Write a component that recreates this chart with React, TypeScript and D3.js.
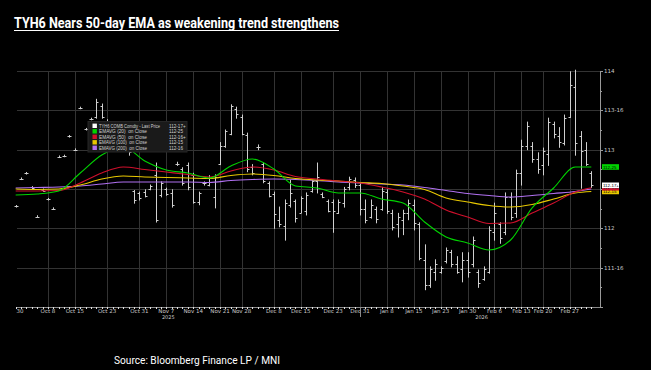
import React from 'react';
import * as d3 from 'd3';

// trading calendar (Sep 30 2025 -> Mar 5 2026), exchange holidays removed
const holidays = ['2025-11-27', '2025-12-25', '2026-01-01', '2026-01-19', '2026-02-16'];
const iso = d3.utcFormat('%Y-%m-%d');
const dates: string[] = d3.utcDay
  .range(new Date(Date.UTC(2025, 8, 30)), new Date(Date.UTC(2026, 2, 6)))
  .filter((d) => d.getUTCDay() % 6 !== 0 && !holidays.includes(iso(d)))
  .map(iso);

const tickDates = [
  '2025-09-30', '2025-10-08', '2025-10-15', '2025-10-23', '2025-10-31', '2025-11-07', '2025-11-14',
  '2025-11-21', '2025-11-28', '2025-12-08', '2025-12-15', '2025-12-23', '2025-12-31', '2026-01-08',
  '2026-01-15', '2026-01-23', '2026-01-30', '2026-02-06', '2026-02-13', '2026-02-20', '2026-02-27',
];

// OHLC of TYH6 (one per trading day)
const opens = [
  112.28, 112.63, 112.70, 112.52, 112.15, 112.49, 112.37, 112.25, 112.91, 112.92, 113.17, 113.00, 113.53, 113.26, 113.39, 113.42,
  113.55, 113.36, 113.28, 113.20, 113.12, 113.03, 112.47, 112.45, 112.46, 112.50, 112.68, 112.42, 112.50, 112.45, 112.82, 112.75,
  112.80, 112.68, 112.33, 112.57, 112.55, 112.40, 112.82, 113.05, 113.20, 113.52, 113.41, 113.19, 112.78, 113.03, 112.82, 112.58,
  112.44, 112.10, 112.03, 112.30, 112.35, 112.20, 112.22, 112.48, 112.60, 112.44, 112.35, 112.33, 112.20, 112.32, 112.52, 112.62,
  112.55, 112.25, 112.15, 112.25, 112.25, 112.46, 112.20, 112.05, 112.10, 112.20, 112.30, 112.05, 111.60, 111.28, 111.45, 111.45,
  111.58, 111.70, 111.55, 111.48, 111.60, 111.55, 111.45, 111.35, 111.45, 111.95, 112.05, 111.95, 112.40, 112.20, 112.70, 113.05,
  113.05, 112.88, 112.80, 112.95, 113.32, 113.18, 113.08, 113.42, 113.80, 113.17, 113.00, 112.70,
];
const highs = [
  112.29, 112.64, 112.71, 112.53, 112.16, 112.50, 112.38, 112.26, 112.92, 112.93, 113.18, 113.01, 113.54, 113.27, 113.40, 113.64,
  113.58, 113.38, 113.31, 113.25, 113.19, 113.12, 112.48, 112.46, 112.49, 112.55, 112.83, 112.59, 112.51, 112.49, 112.84, 112.77,
  112.83, 112.70, 112.46, 112.59, 112.67, 112.68, 113.09, 113.25, 113.57, 113.54, 113.44, 113.21, 112.81, 113.06, 112.83, 112.59,
  112.46, 112.27, 112.36, 112.61, 112.36, 112.40, 112.45, 112.61, 112.83, 112.45, 112.36, 112.36, 112.36, 112.52, 112.65, 112.64,
  112.58, 112.36, 112.36, 112.27, 112.52, 112.49, 112.23, 112.19, 112.23, 112.36, 112.36, 112.07, 111.79, 111.51, 111.60, 111.51,
  111.75, 111.72, 111.64, 111.69, 111.69, 111.89, 111.47, 111.51, 112.02, 112.32, 112.07, 112.45, 112.45, 112.74, 113.12, 113.35,
  113.09, 112.96, 113.02, 113.40, 113.35, 113.28, 113.44, 113.99, 114.01, 113.23, 113.09, 112.72,
];
const lows = [
  112.27, 112.62, 112.69, 112.50, 112.14, 112.47, 112.36, 112.24, 112.90, 112.91, 113.16, 112.99, 113.52, 113.25, 113.38, 113.40,
  113.40, 113.25, 113.15, 113.10, 113.00, 112.93, 112.32, 112.36, 112.40, 112.49, 112.08, 112.40, 112.42, 112.27, 112.80, 112.55,
  112.49, 112.32, 112.30, 112.55, 112.54, 112.26, 112.81, 113.03, 113.19, 113.40, 113.19, 112.72, 112.68, 113.00, 112.58, 112.40,
  112.00, 112.02, 111.85, 112.27, 112.08, 112.20, 112.17, 112.46, 112.45, 112.39, 112.21, 111.95, 112.19, 112.27, 112.49, 112.52,
  112.17, 112.07, 112.13, 112.07, 112.23, 112.19, 111.98, 111.89, 111.92, 112.11, 111.98, 111.60, 111.22, 111.25, 111.34, 111.43,
  111.56, 111.51, 111.43, 111.32, 111.38, 111.51, 111.25, 111.34, 111.43, 111.85, 111.81, 111.92, 112.11, 112.14, 112.55, 113.00,
  112.84, 112.70, 112.68, 112.80, 113.15, 113.03, 113.06, 113.41, 112.93, 112.51, 112.80, 112.52,
];
const closes = [
  112.28, 112.63, 112.70, 112.51, 112.15, 112.48, 112.37, 112.25, 112.91, 112.92, 113.17, 113.00, 113.53, 113.26, 113.39, 113.60,
  113.42, 113.28, 113.19, 113.12, 113.02, 112.97, 112.36, 112.39, 112.41, 112.54, 112.10, 112.58, 112.44, 112.30, 112.82, 112.58,
  112.52, 112.34, 112.45, 112.57, 112.64, 112.65, 113.05, 113.24, 113.55, 113.45, 113.20, 112.75, 112.70, 113.04, 112.60, 112.41,
  112.18, 112.05, 112.32, 112.45, 112.13, 112.38, 112.42, 112.60, 112.65, 112.40, 112.22, 112.22, 112.34, 112.50, 112.63, 112.55,
  112.25, 112.10, 112.30, 112.12, 112.48, 112.22, 112.02, 112.15, 112.20, 112.32, 112.07, 111.62, 111.28, 111.48, 111.55, 111.49,
  111.72, 111.55, 111.45, 111.60, 111.45, 111.85, 111.30, 111.48, 111.98, 112.20, 111.88, 112.40, 112.15, 112.70, 113.05, 113.30,
  112.88, 112.75, 112.98, 113.35, 113.20, 113.10, 113.40, 113.82, 113.08, 112.98, 112.82, 112.55,
];

// EMA readings, sampled at these trading-day positions
const emaIdx = [0, 4, 8, 12, 16, 20, 24, 28, 32, 36, 40, 44, 48, 52, 56, 60, 64, 68, 72, 76, 80, 84, 88, 92, 96, 100, 104, 107];
const ema20 = [
  112.424, 112.436, 112.475, 112.703, 112.932, 113.034, 112.856, 112.742, 112.703, 112.640, 112.792, 112.881, 112.754, 112.538,
  112.513, 112.449, 112.449, 112.373, 112.322, 112.081, 111.890, 111.814, 111.725, 111.852, 112.259, 112.513, 112.780, 112.780,
];
const ema50 = [
  112.475, 112.475, 112.481, 112.576, 112.703, 112.780, 112.748, 112.716, 112.684, 112.653, 112.729, 112.780, 112.742, 112.659,
  112.627, 112.602, 112.576, 112.525, 112.462, 112.373, 112.233, 112.144, 112.062, 112.068, 112.195, 112.322, 112.462, 112.516,
];
const ema100 = [
  112.500, 112.494, 112.500, 112.551, 112.627, 112.665, 112.653, 112.646, 112.640, 112.634, 112.672, 112.691, 112.672, 112.634,
  112.614, 112.602, 112.583, 112.570, 112.538, 112.494, 112.386, 112.335, 112.290, 112.271, 112.303, 112.373, 112.449, 112.469,
];
const ema200 = [
  112.513, 112.519, 112.525, 112.538, 112.564, 112.589, 112.589, 112.589, 112.589, 112.583, 112.608, 112.621, 112.627, 112.621,
  112.608, 112.589, 112.576, 112.564, 112.551, 112.519, 112.481, 112.443, 112.417, 112.398, 112.417, 112.443, 112.468, 112.500,
];

const legendNames = [
  'TYH6 COMB Comdty - Last Price',
  'EMAVG (20)  on Close',
  'EMAVG (50)  on Close',
  'EMAVG (100)  on Close',
  'EMAVG (200)  on Close',
];
const legendValues = ['112-17+', '112-25', '112-16+', '112-15', '112-16'];
const legendColors = ['#ffffff', '#00d400', '#d0102c', '#e8c800', '#b070f0'];
const lastPrice = 112.547;

const W = 651;
const H = 370;
const left = 17, right = 600, top = 71, bottom = 307;

const fmt32 = (p: number) => {
  const whole = Math.floor(p + 1e-9);
  const n = Math.round((p - whole) * 64) / 2;
  if (n === 0) return `${whole}`;
  return `${whole}-${String(Math.floor(n)).padStart(2, '0')}${n % 1 ? '+' : ''}`;
};

export default function App() {
  const x = d3.scaleBand<string>().domain(dates).range([13, 594]);
  const cx = (d: string) => (x(d) ?? 0) + x.bandwidth() / 2;
  const y = d3.scaleLinear().domain([111, 114]).range([bottom, top]);

  const yTicks = d3.range(111, 114.001, 0.25);
  const yLabels = [114, 113.5, 113, 112, 111.5];
  const gridY = [114, 113.5, 113, 112.5, 112, 111.5];

  const line = d3
    .line<number>()
    .x((_, i) => cx(dates[emaIdx[i]]))
    .y((v) => y(v))
    .curve(d3.curveMonotoneX);

  const emaSeries = [
    { v: ema200, c: legendColors[4] },
    { v: ema100, c: legendColors[3] },
    { v: ema50, c: legendColors[2] },
    { v: ema20, c: legendColors[1] },
  ];

  const tickFmt = d3.utcFormat('%b %-d');
  const parse = d3.utcParse('%Y-%m-%d');

  // right-hand price boxes, drawn bottom-most first
  const boxes = [
    { v: ema200[ema200.length - 1], c: legendColors[4], t: legendValues[4] },
    { v: ema100[ema100.length - 1], c: legendColors[3], t: legendValues[3] },
    { v: ema50[ema50.length - 1], c: legendColors[2], t: legendValues[2] },
    { v: lastPrice, c: legendColors[0], t: legendValues[0] },
    { v: ema20[ema20.length - 1], c: legendColors[1], t: legendValues[1] },
  ];

  return (
    <svg
      width={W}
      height={H}
      style={{ position: 'fixed', left: 0, top: 0, background: '#000', display: 'block' }}
      fontFamily="'DejaVu Sans', sans-serif"
    >
      <rect width={W} height={H} fill="#000" />

      {/* title */}
      <text x={14} y={28} fill="#fff" fontFamily="Roboto, sans-serif" fontWeight={700} fontSize={14.5}
        textLength={325} lengthAdjust="spacingAndGlyphs">
        TYH6 Nears 50-day EMA as weakening trend strengthens
      </text>
      <line x1={14} x2={339} y1={30.5} y2={30.5} stroke="#fff" strokeWidth={1.2} />

      {/* grid */}
      {gridY.map((g) => (
        <line key={g} x1={left} x2={right} y1={Math.round(y(g)) + 0.5} y2={Math.round(y(g)) + 0.5} stroke="#333" />
      ))}
      {tickDates.slice(1).map((d) => (
        <line key={d} x1={Math.round(cx(d)) + 0.5} x2={Math.round(cx(d)) + 0.5} y1={top} y2={bottom} stroke="#333" />
      ))}

      {/* OHLC bars */}
      <g stroke="#cfcfcf" strokeWidth={1}>
        {dates.map((d, i) => {
          const c = Math.round(cx(d)) + 0.5;
          return (
            <g key={d}>
              <line x1={c} x2={c} y1={y(highs[i]) - 0.5} y2={y(lows[i]) + 0.5} />
              <line x1={c - 2} x2={c} y1={Math.round(y(opens[i])) + 0.5} y2={Math.round(y(opens[i])) + 0.5} />
              <line x1={c} x2={c + 2} y1={Math.round(y(closes[i])) + 0.5} y2={Math.round(y(closes[i])) + 0.5} />
            </g>
          );
        })}
      </g>

      {/* EMA lines */}
      {emaSeries.map((s) => (
        <path key={s.c} d={line(s.v) ?? ''} fill="none" stroke={s.c} strokeWidth={1.1} />
      ))}

      {/* legend */}
      <rect x={88} y={121.5} width={99} height={30.5} fill="#1a1a1a" stroke="#262626" />
      {legendNames.map((n, k) => (
        <g key={n} transform={`translate(0, ${125.8 + k * 5.5})`}>
          <rect x={92.5} y={-2.2} width={4.4} height={4.4} fill={legendColors[k]} />
          <text x={99} y={1.7} fontSize={4.6} fill="#d0d0d0" fontFamily="'Liberation Sans', sans-serif"
            textLength={k === 0 ? 61 : 48} lengthAdjust="spacingAndGlyphs" style={{ whiteSpace: 'pre' }}>{n}</text>
          <text x={169} y={1.7} fontSize={4.6} fill="#d0d0d0" fontFamily="'Liberation Sans', sans-serif">
            {legendValues[k]}
          </text>
        </g>
      ))}

      {/* right axis */}
      <line x1={right + 0.5} x2={right + 0.5} y1={top} y2={bottom} stroke="#9a9a9a" />
      {yTicks.map((t) => {
        const major = Math.abs(t * 2 - Math.round(t * 2)) < 1e-6;
        return (
          <line key={t} x1={right} x2={right + (major ? 3 : 2)} y1={Math.round(y(t)) + 0.5} y2={Math.round(y(t)) + 0.5}
            stroke="#9a9a9a" />
        );
      })}
      {yLabels.map((t) => (
        <text key={t} x={right + 4} y={y(t) + 2} fontSize={5.5} fill="#c8c8c8">{fmt32(t)}</text>
      ))}
      {boxes.map((b) => (
        <g key={b.t + b.c}>
          <rect x={602} y={y(b.v) - 2.8} width={17} height={5.6} fill={b.c} />
          <text x={603} y={y(b.v) + 1.6} fontSize={4.4} fill="#000" fontFamily="'Liberation Sans', sans-serif">{b.t}</text>
        </g>
      ))}

      {/* bottom axis */}
      <line x1={left} x2={right} y1={bottom + 0.5} y2={bottom + 0.5} stroke="#8a8a8a" />
      {dates.map((d) => (
        <line key={d} x1={Math.round(cx(d)) + 0.5} x2={Math.round(cx(d)) + 0.5} y1={bottom} y2={bottom + 2} stroke="#e0e0e0" />
      ))}
      {tickDates.map((d, k) => (
        <text key={d} x={k === 0 ? 20 : cx(d)} y={313} fontSize={5.5} fill="#c8c8c8" textAnchor="middle">
          {k === 0 ? tickFmt(parse(d)!).split(' ')[1] : tickFmt(parse(d)!)}
        </text>
      ))}
      <line x1={Math.round(cx('2025-12-31')) + 0.5} x2={Math.round(cx('2025-12-31')) + 0.5} y1={bottom} y2={bottom + 10}
        stroke="#8a8a8a" />
      <text x={cx('2025-11-07') + 2} y={319} fontSize={5} fill="#c8c8c8" textAnchor="middle">2025</text>
      <text x={cx('2026-01-30') + 14} y={319} fontSize={5} fill="#c8c8c8" textAnchor="middle">2026</text>

      {/* source */}
      <text x={114} y={364} fill="#fff" fontFamily="Roboto, sans-serif" fontSize={10} textLength={166}
        lengthAdjust="spacingAndGlyphs">
        Source: Bloomberg Finance LP / MNI
      </text>
    </svg>
  );
}
